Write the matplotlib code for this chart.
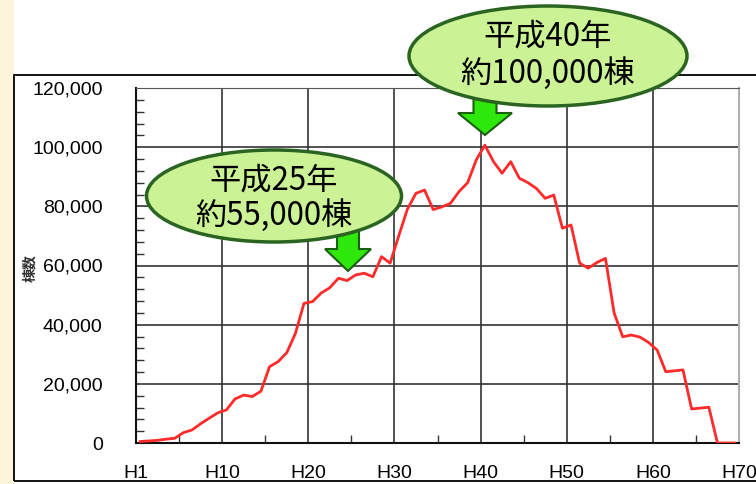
import matplotlib
matplotlib.use("Agg")
import matplotlib.pyplot as plt
import numpy as np
from matplotlib.patches import Ellipse, Polygon, Rectangle
from matplotlib.ticker import MultipleLocator, FuncFormatter

# 平成1年〜70年の棟数 (読み取り値)
years = list(range(1, 71))
counts = [500, 700, 900, 1300, 1600, 3500, 4400, 6500, 8400, 10200,
          11200, 14900, 16200, 15700, 17500, 25800, 27500, 30500, 37000, 47200,
          47800, 50700, 52500, 55700, 54900, 56800, 57400, 56200, 63000, 60800,
          70000, 79000, 84400, 85500, 78900, 79800, 81000, 85000, 88000, 95700,
          100700, 95100, 91200, 95100, 89500, 88000, 86000, 82700, 83800, 72600,
          73700, 60800, 59100, 61000, 62400, 44000, 35900, 36500, 35800, 34000,
          31400, 24100, 24400, 24700, 11500, 11800, 12100, 0, 0, 0]
x_ticks = [0, 10, 20, 30, 40, 50, 60, 70]
x_labels = ["H1", "H10", "H20", "H30", "H40", "H50", "H60", "H70"]
y_ticks = [0, 20000, 40000, 60000, 80000, 100000, 120000]

notes = [("平成25年", "約55,000棟"), ("平成40年", "約100,000棟")]

W, H = 756, 484
cjk = ["Noto Sans CJK JP", "DejaVu Sans"]


def px(x, y):
    # pixel (from top-left) -> figure fraction
    return x / W, 1 - y / H


fig = plt.figure(figsize=(W / 100, H / 100), dpi=100)
fig.patch.set_facecolor("white")

# pale strip on the left and the outer frame
fig.patches.append(Rectangle((0, 0), 14 / W, 1, transform=fig.transFigure,
                             facecolor="#fcf5d9", edgecolor="none", zorder=0))
x0, y0 = px(14, 481)
fig.patches.append(Rectangle((x0, y0), 1.0, (481 - 75) / H, transform=fig.transFigure,
                             fill=False, edgecolor="black", lw=1.3, zorder=1))

l, b = px(136, 443)
r, t = px(739, 88)
ax = fig.add_axes([l, b, r - l, t - b])

ax.plot(np.array(years) - 0.5, counts, color="#ff2a2a", lw=2, zorder=3)

ax.set_xlim(0, 70)
ax.set_ylim(0, 120000)
ax.set_xticks(x_ticks)
ax.set_xticklabels(x_labels)
ax.set_yticks(y_ticks)
ax.yaxis.set_major_formatter(FuncFormatter(lambda v, p: f"{int(v):,}"))
ax.xaxis.set_minor_locator(MultipleLocator(5))
ax.yaxis.set_minor_locator(MultipleLocator(4000))
ax.tick_params(which="minor", direction="in", length=6, width=1, color="#333333")
ax.tick_params(which="major", length=0)
ax.tick_params(axis="y", pad=24)
ax.tick_params(axis="x", pad=16)
for lab in ax.get_xticklabels() + ax.get_yticklabels():
    lab.set_fontfamily("Liberation Sans")
    lab.set_fontsize(14)
    lab.set_color("black")

ax.grid(which="major", color="#333333", lw=1.2)
ax.set_axisbelow(True)
for side in ["left", "bottom"]:
    ax.spines[side].set_color("#111111")
    ax.spines[side].set_linewidth(1.5)
ax.spines["top"].set_color("#555555")
ax.spines["right"].set_color("#b0b0b0")
ax.spines["right"].set_linewidth(1.5)

fig.text(*px(30, 268), "棟数", rotation=90, fontsize=10, fontweight="bold",
         family=cjk, ha="center", va="center", color="#333333")


def arrow(cx, top, head_top, tip, shaft_w, head_w):
    pts = [(cx - shaft_w / 2, top), (cx + shaft_w / 2, top),
           (cx + shaft_w / 2, head_top), (cx + head_w / 2, head_top),
           (cx, tip), (cx - head_w / 2, head_top), (cx - shaft_w / 2, head_top)]
    fig.patches.append(Polygon([px(*p) for p in pts], closed=True,
                               transform=fig.transFigure, facecolor="#2ee80c",
                               edgecolor="#1a6010", lw=1.5, zorder=5))


def bubble(cx, cy, w, h, lines, ys):
    ex, ey = px(cx, cy)
    fig.patches.append(Ellipse((ex, ey), w / W, h / H, transform=fig.transFigure,
                               facecolor="#ccf296", edgecolor="#2a6420", lw=2.5, zorder=6))
    for txt, yy in zip(lines, ys):
        fig.text(*px(cx, yy), txt, fontsize=22.5, family=cjk, ha="center",
                 va="center", color="black", zorder=7)


arrow(348, 220, 249, 271, 22, 46)
arrow(485, 95, 113, 135, 23, 54)
bubble(274, 196, 255, 92, notes[0], [181, 216])
bubble(548, 56, 278, 100, notes[1], [37, 74])

fig.savefig("out.png", dpi=100)
